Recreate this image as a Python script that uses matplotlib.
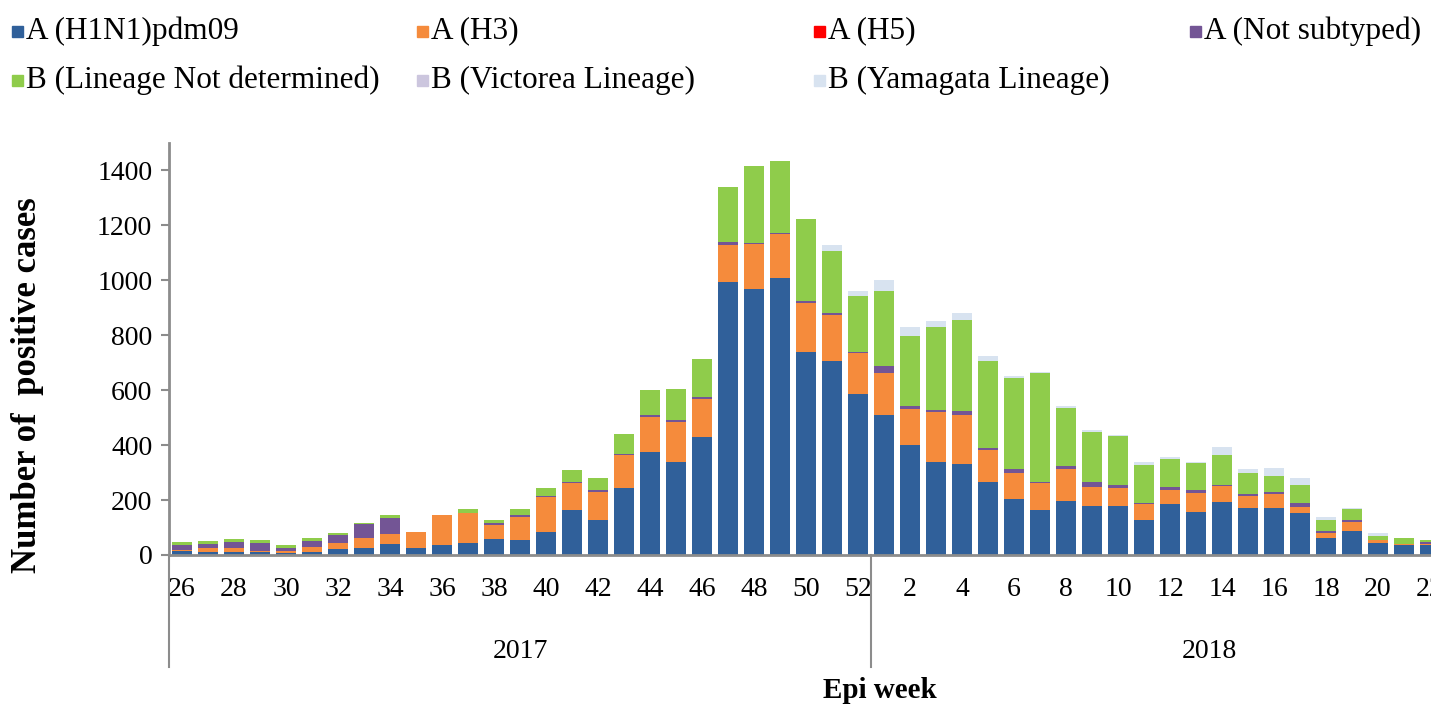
import matplotlib
matplotlib.use("Agg")
import matplotlib.pyplot as plt
from matplotlib.patches import Rectangle
import numpy as np

# epi weeks: 2017 wk 26-52, 2018 wk 1-22 (chart is cropped after wk 22)
WEEKS_2017 = list(range(26, 53))
WEEKS_2018 = list(range(1, 23))
WEEKS = WEEKS_2017 + WEEKS_2018
YEAR_SPANS = [("2017", 26, 52), ("2018", 1, 26)]

H1N1 = [15, 12, 12, 10, 8, 10, 21, 27, 39, 27, 36, 44, 57, 56, 84, 165, 126, 245, 374, 337,
        428, 995, 969, 1008, 740, 707, 586,
        509, 401, 337, 331, 267, 203, 164, 197, 177, 177, 126, 185, 158, 194, 170, 170, 152,
        63, 87, 43, 35, 36]
H3 = [3, 14, 14, 6, 8, 20, 24, 36, 39, 55, 109, 110, 51, 83, 126, 96, 103, 118, 129, 146,
      140, 135, 162, 159, 177, 167, 148,
      154, 129, 185, 180, 114, 97, 97, 115, 72, 66, 58, 52, 67, 57, 45, 53, 23,
      18, 33, 11, 6, 5]
H5 = [0] * 49
NOT_SUBTYPED = [20, 14, 20, 28, 10, 20, 28, 49, 56, 0, 0, 0, 7, 7, 3, 3, 6, 6, 6, 8,
                6, 11, 6, 6, 6, 7, 6,
                24, 11, 7, 12, 7, 12, 6, 12, 18, 11, 4, 11, 11, 4, 6, 6, 16,
                6, 6, 0, 0, 5]
B_NOT_DET = [10, 10, 11, 12, 12, 12, 6, 6, 11, 0, 1, 12, 12, 21, 32, 45, 44, 70, 91, 115,
             140, 198, 280, 261, 300, 224, 203,
             275, 255, 300, 333, 318, 331, 395, 210, 182, 180, 139, 103, 98, 109, 79, 58, 64,
             39, 43, 16, 22, 10]
B_VICTORIA = [0] * 49
B_YAMAGATA = [0, 0, 0, 0, 0, 0, 0, 0, 0, 0, 0, 0, 0, 0, 0, 0, 0, 0, 0, 0,
              0, 0, 0, 0, 0, 24, 18,
              39, 33, 24, 24, 18, 10, 3, 8, 6, 4, 12, 4, 4, 30, 12, 30, 24,
              12, 3, 10, 0, 0]

SERIES = [
    ("A (H1N1)pdm09", H1N1, "#30609A"),
    ("A (H3)", H3, "#F58B3C"),
    ("A (H5)", H5, "#FF0000"),
    ("A (Not subtyped)", NOT_SUBTYPED, "#735595"),
    ("B (Lineage Not determined)", B_NOT_DET, "#8FCC4B"),
    ("B (Victorea Lineage)", B_VICTORIA, "#CCC6DE"),
    ("B (Yamagata Lineage)", B_YAMAGATA, "#D8E3F0"),
]

FONT = "Liberation Serif"
AXIS_GREY = "#8C8C8C"
W, H = 1431, 709
TICK_FS = 20

fig = plt.figure(figsize=(W / 100, H / 100), dpi=100)
# axes placed in pixel terms: y-axis at x=169, baseline at y=555, top at y=143
ax = fig.add_axes([169 / W, (H - 555) / H, (W - 169) / W, (555 - 143) / H])

x = np.arange(len(WEEKS))
bottom = np.zeros(len(WEEKS))
for name, vals, col in SERIES:
    v = np.array(vals, dtype=float)
    ax.bar(x, v, width=0.76, bottom=bottom, color=col, edgecolor="none", zorder=2)
    bottom += v

ax.set_xlim(-0.5, -0.5 + (W - 169) / 26)
ax.set_ylim(0, 1500)
ax.set_yticks(range(0, 1401, 200))
ax.set_yticklabels([str(t) for t in range(0, 1401, 200)], fontname=FONT, fontsize=TICK_FS)

xt = x[::2]
ax.set_xticks(xt)
ax.set_xticklabels([str(WEEKS[i]) for i in xt], fontname=FONT, fontsize=TICK_FS)
ax.tick_params(axis="x", length=0, pad=16)
ax.tick_params(axis="y", length=6, width=1.5, color=AXIS_GREY, pad=6)

for s in ["top", "right"]:
    ax.spines[s].set_visible(False)
for s in ["left", "bottom"]:
    ax.spines[s].set_color(AXIS_GREY)
    ax.spines[s].set_linewidth(2)

# multi-level category axis: year separators and labels
trans = ax.get_xaxis_transform()
sep_depth = -(667 - 555) / (555 - 143)
ax.plot([-0.5, -0.5], [0, sep_depth], transform=trans, color=AXIS_GREY, lw=1.5, clip_on=False)
n17 = len(WEEKS_2017)
ax.plot([n17 - 0.5, n17 - 0.5], [0, sep_depth], transform=trans, color=AXIS_GREY, lw=1.5,
        clip_on=False)
start = -0.5
for label, w0, w1 in YEAR_SPANS:
    n = w1 - w0 + 1
    ax.text(start + n / 2, -(651 - 555) / (555 - 143), label, transform=trans,
            ha="center", va="center", fontname=FONT, fontsize=TICK_FS)
    start += n

fig.text(880 / W, 1 - 690 / H, "Epi week", ha="center", va="center",
         fontname=FONT, fontsize=21, fontweight="bold")
fig.text(28 / W, 1 - 385 / H, "Number of  positive cases", rotation=90, ha="center",
         va="center", fontname=FONT, fontsize=25, fontweight="bold")

# legend laid out like the Excel original: 4 equal columns, row-major
col_x = [12, 417, 814, 1190]
row_y = [31, 80]
for k, (name, vals, col) in enumerate(SERIES):
    r, c = divmod(k, 4)
    px, py = col_x[c], row_y[r]
    fig.patches.append(Rectangle((px / W, 1 - (py + 5.5) / H), 11 / W, 11 / H,
                                 transform=fig.transFigure, color=col, figure=fig))
    fig.text((px + 14) / W, 1 - py / H, name, ha="left", va="center",
             fontname=FONT, fontsize=22.5)

fig.savefig("out.png", dpi=100)
